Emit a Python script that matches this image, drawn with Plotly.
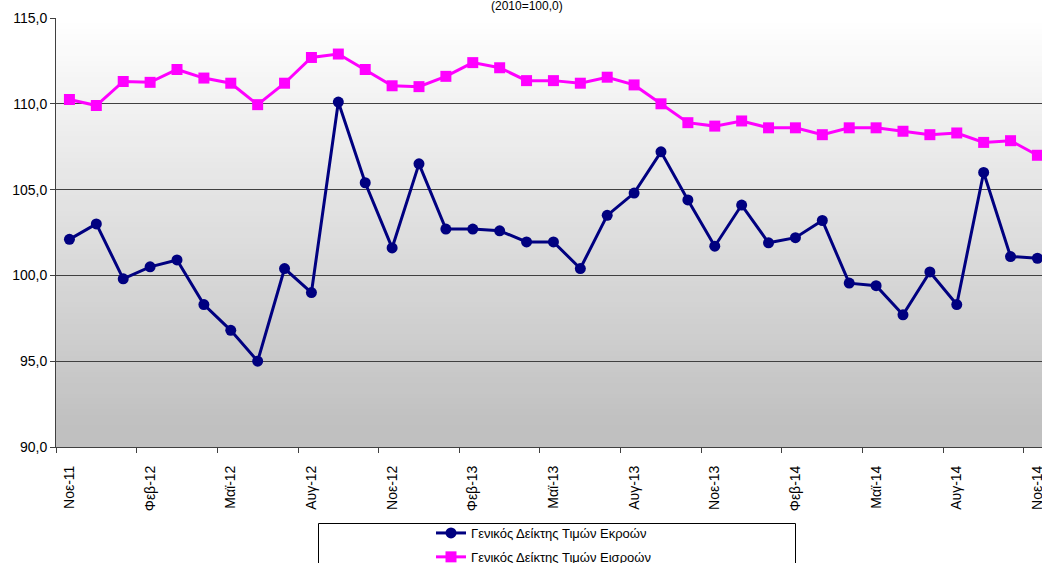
import plotly.graph_objects as go

months = ["Νοε-11", "Δεκ-11", "Ιαν-12", "Φεβ-12", "Μαρ-12", "Απρ-12", "Μαϊ-12", "Ιουν-12",
          "Ιουλ-12", "Αυγ-12", "Σεπ-12", "Οκτ-12", "Νοε-12", "Δεκ-12", "Ιαν-13", "Φεβ-13",
          "Μαρ-13", "Απρ-13", "Μαϊ-13", "Ιουν-13", "Ιουλ-13", "Αυγ-13", "Σεπ-13", "Οκτ-13",
          "Νοε-13", "Δεκ-13", "Ιαν-14", "Φεβ-14", "Μαρ-14", "Απρ-14", "Μαϊ-14", "Ιουν-14",
          "Ιουλ-14", "Αυγ-14", "Σεπ-14", "Οκτ-14", "Νοε-14"]

outputs = [102.1, 103.0, 99.8, 100.5, 100.9, 98.3, 96.8, 95.0, 100.4, 99.0, 110.1, 105.4,
           101.6, 106.5, 102.7, 102.7, 102.6, 101.95, 101.95, 100.4, 103.5, 104.8, 107.2, 104.4,
           101.7, 104.1, 101.9, 102.2, 103.2, 99.55, 99.4, 97.7, 100.2, 98.3, 106.0, 101.1, 101.0]

inputs = [110.25, 109.9, 111.3, 111.25, 112.0, 111.5, 111.2, 109.95, 111.2, 112.7, 112.9, 112.0,
          111.05, 111.0, 111.6, 112.4, 112.1, 111.35, 111.35, 111.2, 111.55, 111.1, 110.0, 108.9,
          108.7, 109.0, 108.6, 108.6, 108.2, 108.6, 108.6, 108.4, 108.2, 108.3, 107.75, 107.85, 107.0]

series_names = ["Γενικός Δείκτης Τιμών Εκροών", "Γενικός Δείκτης Τιμών Εισροών"]
y_ticks = [90, 95, 100, 105, 110, 115]
x_tick_labels = months[::3]
boundary_ticks = [i - 0.5 for i in range(0, len(months), 3)]
x_range = [-0.5, 36.17]

W, H = 1042, 563
ML, MR, MT, MB = 56, 0, 18, H - 447
PW, PH = W - ML - MR, H - MT - MB

def px_x(px):
    return (px - ML) / PW

def px_y(py):
    return (H - MB - py) / PH

font_family = "Arial, Liberation Sans, sans-serif"

fig = go.Figure()
fig.add_trace(go.Scatter(
    x=months, y=outputs, name=series_names[0], mode="lines+markers",
    line=dict(color="#000080", width=3),
    marker=dict(symbol="circle", size=11, color="#000080"),
    legendgroup="a",
))
fig.add_trace(go.Scatter(
    x=months, y=inputs, name=series_names[1], mode="lines+markers",
    line=dict(color="#ff00ff", width=3),
    marker=dict(symbol="square", size=11, color="#ff00ff"),
    legendgroup="b",
))
# invisible trace on overlay axis for boundary tick marks
fig.add_trace(go.Scatter(x=[0], y=[100], xaxis="x2", mode="markers",
                         marker=dict(opacity=0), showlegend=False, hoverinfo="skip"))

# gradient background bands
shapes = []
n = 80
top_c, bot_c = 255, 192
for i in range(n):
    f = (i + 0.5) / n
    c = int(round(top_c + (bot_c - top_c) * min(1.0, f * 1.05)))
    shapes.append(dict(type="rect", xref="x domain", yref="y domain",
                       x0=0, x1=1, y0=1 - i / n, y1=1 - (i + 1) / n - 0.002,
                       fillcolor=f"rgb({c},{c},{c})", line=dict(width=0), layer="below"))
# legend box
shapes.append(dict(type="rect", xref="paper", yref="paper",
                   x0=px_x(318.5), x1=px_x(795.5), y0=px_y(523.5), y1=px_y(600),
                   line=dict(color="black", width=1), fillcolor="rgba(0,0,0,0)"))

fig.update_layout(
    width=W, height=H,
    margin=dict(l=ML, r=MR, t=MT, b=MB, autoexpand=False),
    paper_bgcolor="white", plot_bgcolor="rgba(0,0,0,0)",
    separators=",.",
    font=dict(family=font_family, size=14, color="black"),
    shapes=shapes,
    showlegend=True,
    legend=dict(x=px_x(431), y=px_y(518), xanchor="left", yanchor="top",
                bgcolor="rgba(0,0,0,0)", font=dict(size=13), tracegroupgap=4,
                itemwidth=30),
    annotations=[dict(text="(2010=100,0)", xref="paper", yref="paper",
                      x=px_x(527), y=px_y(6), showarrow=False, font=dict(size=12),
                      xanchor="center", yanchor="middle")],
    xaxis=dict(type="category", categoryorder="array", categoryarray=months,
               range=x_range, tickmode="array", tickvals=x_tick_labels,
               ticktext=x_tick_labels, tickangle=-90, ticks="", showgrid=False,
               showline=True, linecolor="#404040", linewidth=1, zeroline=False,
               tickfont=dict(size=14), ticklabelstandoff=12, automargin=False,
               ticklabeloverflow="allow"),
    xaxis2=dict(overlaying="x", anchor="y", side="bottom", range=x_range,
                tickmode="array", tickvals=boundary_ticks, showticklabels=False,
                ticks="outside", ticklen=5, tickcolor="#404040", showgrid=False,
                zeroline=False, showline=False, automargin=False),
    yaxis=dict(range=[90, 115], tickmode="array", tickvals=y_ticks, tickformat=".1f",
               ticks="outside", ticklen=5, tickcolor="#404040", showgrid=True,
               gridcolor="#404040", gridwidth=1, showline=True, linecolor="#404040",
               linewidth=1, zeroline=False, tickfont=dict(size=14), automargin=False),
)

fig.write_html("out.html",
               config={"displayModeBar": False},
               post_script="document.body.style.margin='0';document.body.style.overflow='hidden';")
